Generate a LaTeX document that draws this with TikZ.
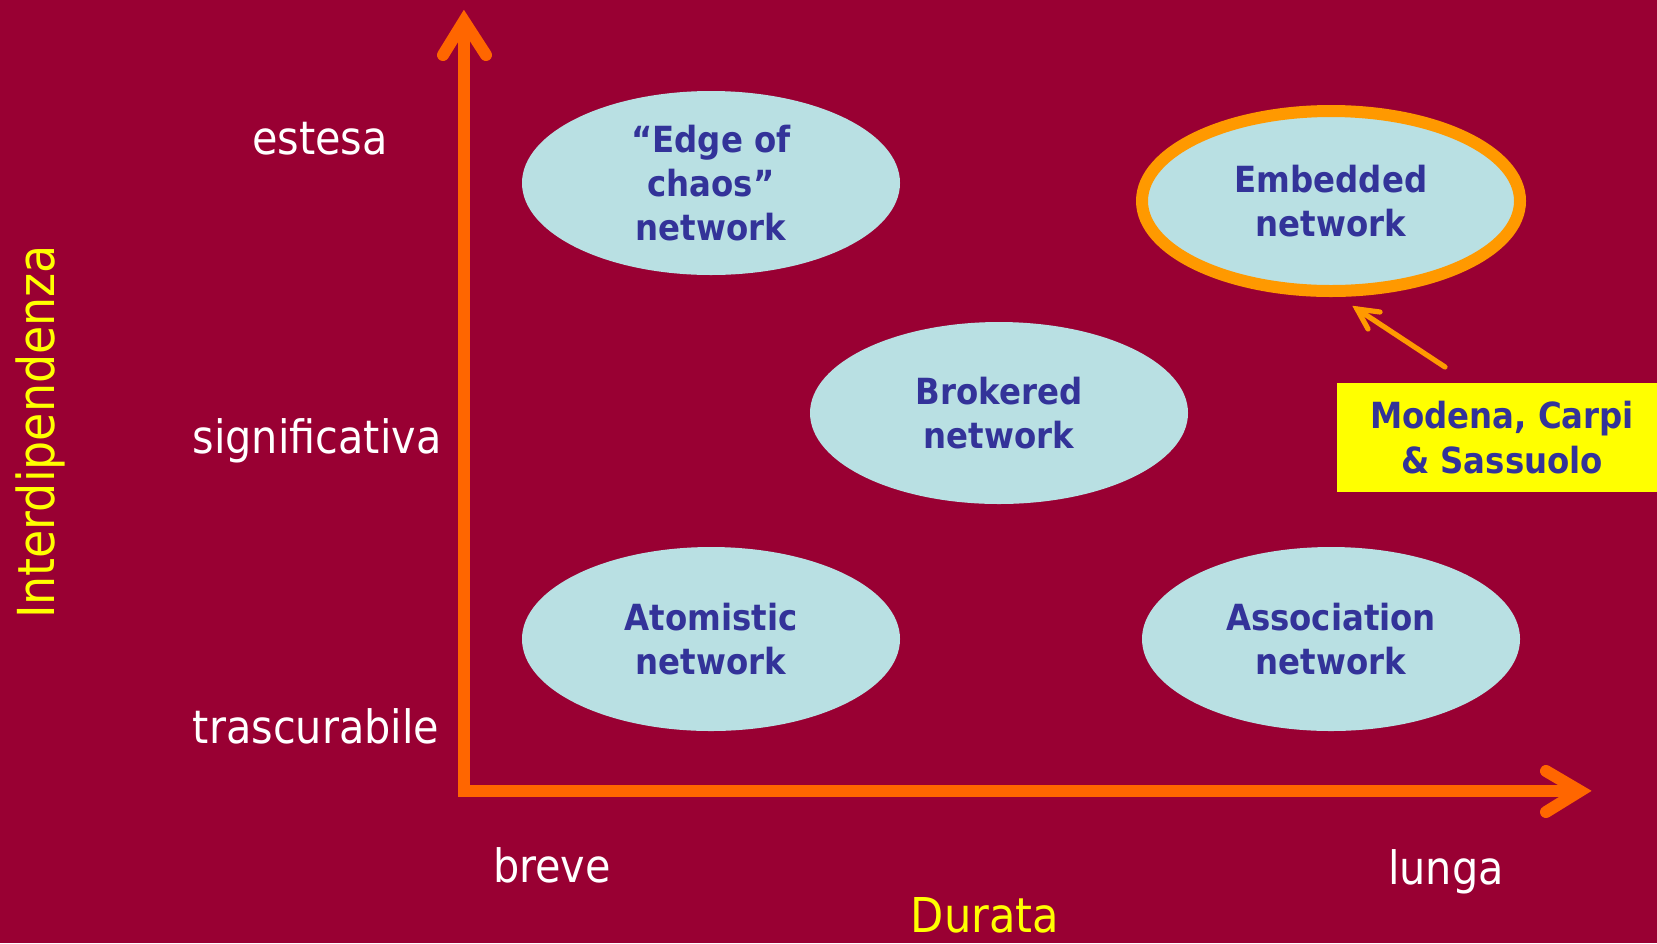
\documentclass[tikz,border=0pt]{standalone}
\usepackage{fontspec}
\setmainfont{DejaVu Sans Condensed}
\usetikzlibrary{shapes.geometric,calc}
\definecolor{bgred}{HTML}{990033}
\definecolor{axisorange}{HTML}{FF6600}
\definecolor{ringorange}{HTML}{FF9900}
\definecolor{bubble}{HTML}{B9E0E3}
\definecolor{ink}{HTML}{333399}
\definecolor{hilite}{HTML}{FFFF00}
\begin{document}
\begin{tikzpicture}[x=0.5pt,y=-0.5pt,
  bubblebox/.style={ellipse,fill=bubble,inner sep=0pt,minimum width=189pt,minimum height=92pt,
    text=ink,font=\fontsize{18}{21.8}\selectfont\bfseries,align=center},
  levellabel/.style={text=white,font=\fontsize{23}{27}\selectfont,anchor=base,inner sep=0pt},
  axistitle/.style={text=hilite,font=\fontsize{24}{28}\selectfont,anchor=base,inner sep=0pt},
  axisline/.style={draw=axisorange,line width=6pt},
  barb/.style={line cap=round,line join=miter}]
  \fill[bgred] (0,0) rectangle (1657,943);
  \useasboundingbox (0,0) rectangle (1657,943);
  \clip (0,0) rectangle (1657,943);

  % axes
  \coordinate (origin) at (464,791);
  \coordinate (ytip) at (464,21);
  \coordinate (xtip) at (1580,791);
  \draw[axisline,line join=miter] (ytip) -- (origin) -- (xtip);
  \draw[axisline,barb] (443,55) -- (ytip) -- (486,55);
  \draw[axisline,barb] (1546,771) -- (xtip) -- (1546,812);

  % network types
  \node[bubblebox] (chaos) at (711,183) {``Edge of\\chaos''\\network};
  \node[bubblebox,draw=ringorange,line width=6pt,minimum width=189pt,minimum height=90pt] (embedded) at (1331,201) {Embedded\\network};
  \node[bubblebox,minimum height=91pt] (brokered) at (999,413) {Brokered\\network};
  \node[bubblebox] (atomistic) at (711,639) {Atomistic\\network};
  \node[bubblebox] (association) at (1331,639) {Association\\network};

  % highlighted districts
  \node[fill=hilite,text=ink,inner sep=0pt,minimum width=165pt,minimum height=54.5pt,
    font=\fontsize{18}{22.5}\selectfont\bfseries,align=center] (districts) at (1502,437.5) {Modena, Carpi\\\& Sassuolo};
  \coordinate (calltail) at (1445,367);
  \coordinate (callhead) at (1357,309);
  \draw[ringorange,line width=2.6pt,line cap=round] (calltail) -- (callhead);
  \draw[ringorange,line width=2.6pt,barb] (1380,312) -- (callhead) -- (1368,329);

  % level labels
  \node[levellabel] (estesa) at (320,154) {estesa};
  \node[levellabel] (signif) at (317,453) {significativa};
  \node[levellabel] (trasc) at (316,743) {trascurabile};
  \node[levellabel] (breve) at (552,882) {breve};
  \node[levellabel] (lunga) at (1446,884) {lunga};

  % axis titles
  \node[axistitle] (durata) at (985,932) {Durata};
  \node[axistitle,font=\fontsize{25.5}{30}\selectfont,rotate=90] (interdip) at (54,432) {Interdipendenza};
\end{tikzpicture}
\end{document}
